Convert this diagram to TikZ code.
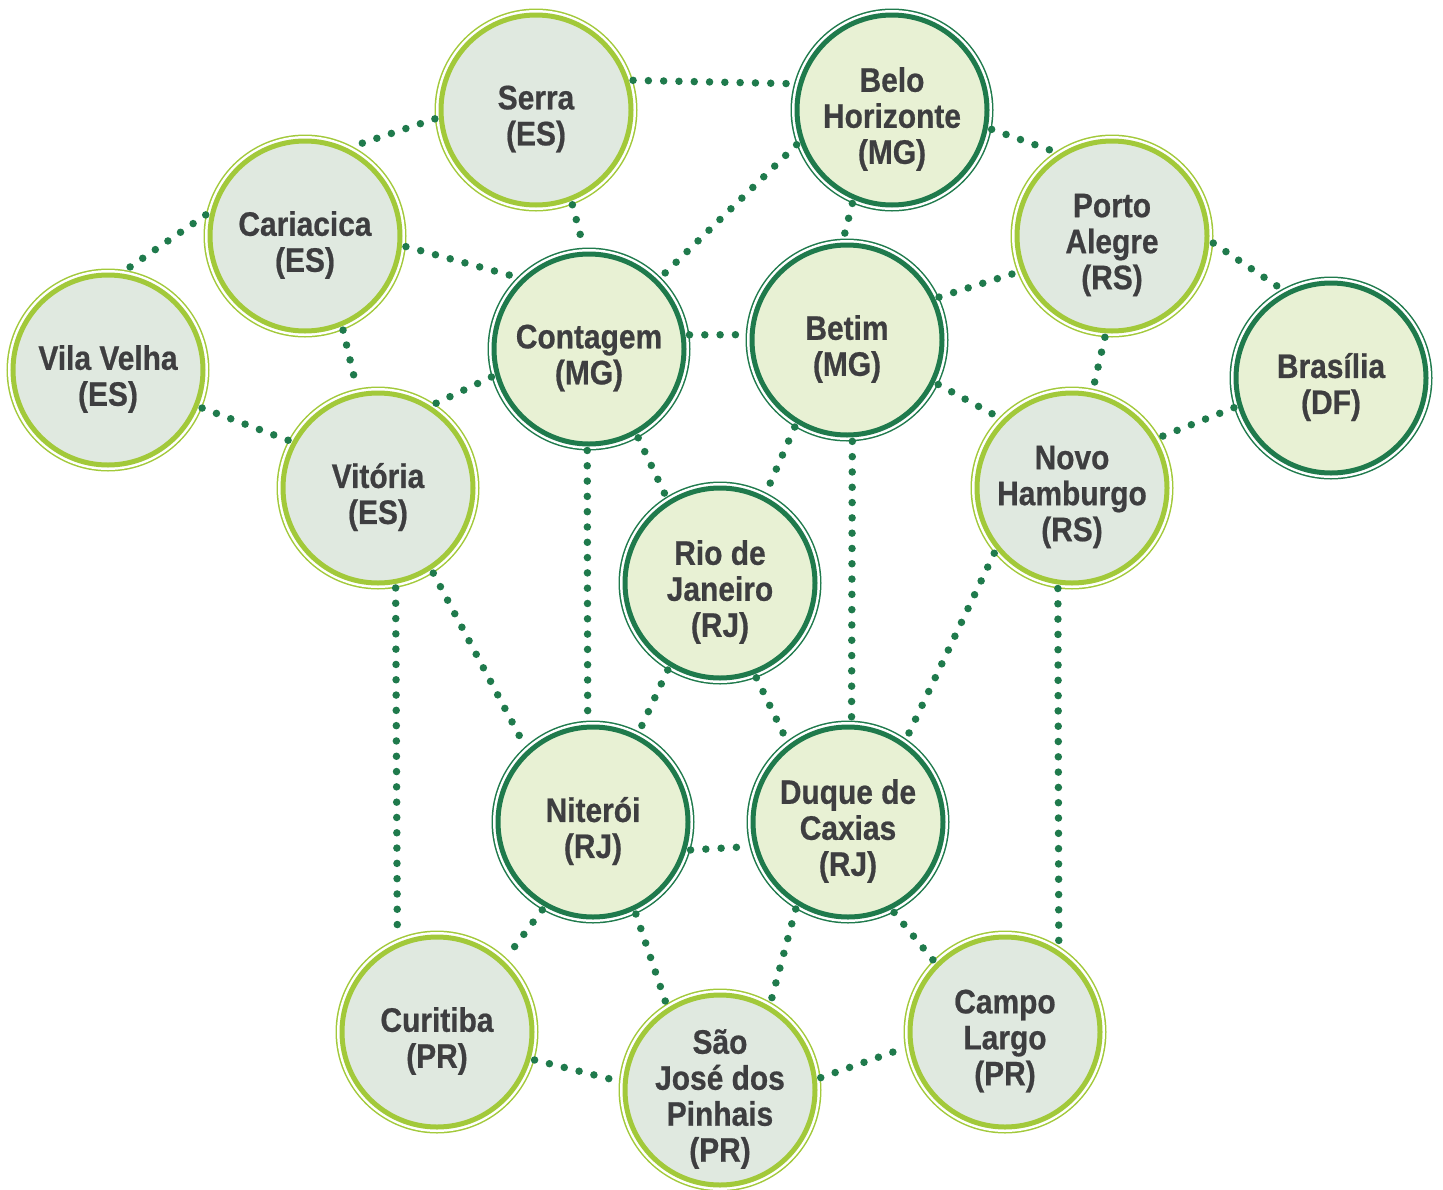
\documentclass[tikz,border=0pt]{standalone}
\usepackage{fontspec}
\newfontfamily\cityfont{Liberation Sans}[FakeStretch=0.88, BoldFeatures={FakeBold=0.6}]
\usepackage{tikz}
\definecolor{lime}{HTML}{A2C93A}
\definecolor{forest}{HTML}{1F7A4C}
\definecolor{paleES}{HTML}{E0E9E0}
\definecolor{paleMG}{HTML}{E8F1D4}
\definecolor{ink}{HTML}{3E3E40}
\tikzset{
CITY/.style ={circle, minimum size=190pt, inner sep=0pt, outer sep=6.5pt, line width=5pt},
OUTER/.style={CITY, draw=lime, fill=paleES, preaction={draw=lime, line width=13pt}, preaction={draw=white, line width=10pt}},
INNER/.style={CITY, draw=forest, fill=paleMG, preaction={draw=forest, line width=13pt}, preaction={draw=white, line width=10pt}},
NAME/.style ={font=\cityfont\bfseries\fontsize{34}{36}\selectfont, text=ink, align=center, inner sep=0pt, yshift=-9pt},
LINK/.style ={draw=forest, line width=7.5pt, line cap=round, dash pattern=on 0pt off 15.3pt},
}
\begin{document}
\begin{tikzpicture}[x=1pt, y=-1pt] % rede de cidades
	\useasboundingbox (0,0) rectangle (1443,1189);
	% ES, RS, PR
	\node[OUTER, label={[NAME]center:Serra\\(ES)}] (serra) at (536,110) {};
	\node[OUTER, label={[NAME]center:Cariacica\\(ES)}] (cariacica) at (305,236) {};
	\node[OUTER, label={[NAME]center:Vila Velha\\(ES)}] (vilavelha) at (108,370) {};
	\node[OUTER, label={[NAME]center:Vitória\\(ES)}] (vitoria) at (378,488) {};
	\node[OUTER, label={[NAME]center:Porto\\Alegre\\(RS)}] (portoalegre) at (1112,236) {};
	\node[OUTER, label={[NAME]center:Novo\\Hamburgo\\(RS)}] (novohamburgo) at (1072,488) {};
	\node[OUTER, label={[NAME]center:Curitiba\\(PR)}] (curitiba) at (437,1032) {};
	\node[OUTER, label={[NAME]center:São\\José dos\\Pinhais\\(PR)}] (saojose) at (720,1090) {};
	\node[OUTER, label={[NAME]center:Campo\\Largo\\(PR)}] (campolargo) at (1005,1032) {};
	% MG, RJ, DF
	\node[INNER, label={[NAME]center:Belo\\Horizonte\\(MG)}] (belohorizonte) at (892,110) {};
	\node[INNER, label={[NAME]center:Contagem\\(MG)}] (contagem) at (589,349) {};
	\node[INNER, label={[NAME]center:Betim\\(MG)}] (betim) at (847,340) {};
	\node[INNER, label={[NAME]center:Brasília\\(DF)}] (brasilia) at (1331,378) {};
	\node[INNER, label={[NAME]center:Rio de\\Janeiro\\(RJ)}] (rio) at (720,583) {};
	\node[INNER, label={[NAME]center:Niterói\\(RJ)}] (niteroi) at (593,822) {};
	\node[INNER, label={[NAME]center:Duque de\\Caxias\\(RJ)}] (duque) at (848,822) {};
	% ligacoes
	\path[LINK] (serra.17) -- (belohorizonte.165);
	\path[LINK] (serra.185) -- (cariacica.62);
	\path[LINK] (serra.-69) -- (contagem.93);
	\path[LINK] (belohorizonte.200) -- (contagem.45);
	\path[LINK] (belohorizonte.247) -- (betim.92);
	\path[LINK] (belohorizonte.-11) -- (portoalegre.124);
	\path[LINK] (cariacica.168) -- (vilavelha.80);
	\path[LINK] (cariacica.-6) -- (contagem.135);
	\path[LINK] (cariacica.-68) -- (vitoria.102);
	\path[LINK] (vilavelha.-22) -- (vitoria.152);
	\path[LINK] (contagem.196) -- (vitoria.56);
	\path[LINK] (contagem.8) -- (betim.177);
	\path[LINK] (contagem.-61) -- (rio.122);
	\path[LINK] (contagem.-91) -- (niteroi.93);
	\path[LINK] (betim.25) -- (portoalegre.201);
	\path[LINK] (betim.-26) -- (novohamburgo.136);
	\path[LINK] (betim.239) -- (rio.63);
	\path[LINK] (betim.-87) -- (duque.88);
	\path[LINK] (portoalegre.-4) -- (brasilia.119);
	\path[LINK] (portoalegre.266) -- (novohamburgo.78);
	\path[LINK] (brasilia.197) -- (novohamburgo.30);
	\path[LINK] (vitoria.-57) -- (niteroi.132);
	\path[LINK] (vitoria.-80) -- (curitiba.113);
	\path[LINK] (novohamburgo.220) -- (duque.55);
	\path[LINK] (novohamburgo.262) -- (campolargo.58);
	\path[LINK] (rio.239) -- (niteroi.63);
	\path[LINK] (rio.-69) -- (duque.127);
	\path[LINK] (niteroi.-16) -- (duque.194);
	\path[LINK] (niteroi.240) -- (curitiba.47);
	\path[LINK] (niteroi.-65) -- (saojose.122);
	\path[LINK] (duque.239) -- (saojose.60);
	\path[LINK] (duque.-63) -- (campolargo.135);
	\path[LINK] (curitiba.-16) -- (saojose.175);
	\path[LINK] (saojose.7) -- (campolargo.189);
\end{tikzpicture}
\end{document}
